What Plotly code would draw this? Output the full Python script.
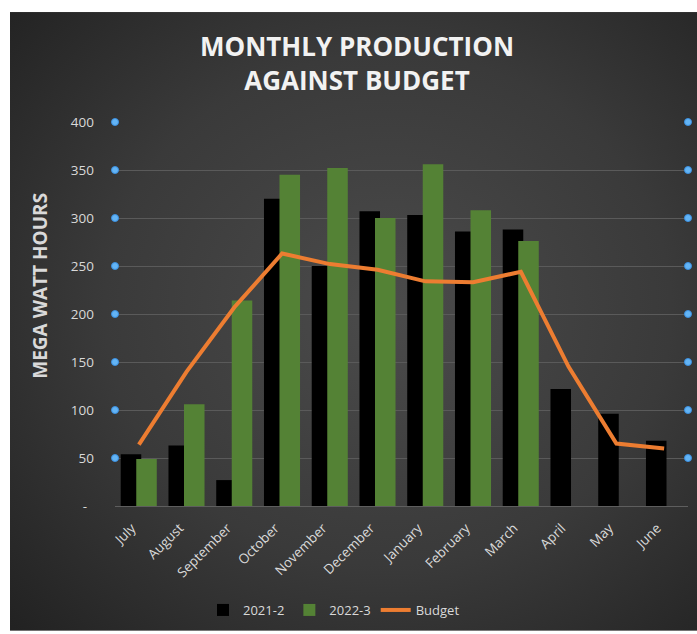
import base64
import plotly.graph_objects as go

months = ["July", "August", "September", "October", "November", "December",
          "January", "February", "March", "April", "May", "June"]
prod_2021_2 = [54, 63, 27, 320, 250, 307, 303, 286, 288, 122, 96, 68]
prod_2022_3 = [49, 106, 214, 345, 352, 300, 356, 308, 276, None, None, None]
budget = [64, 140, 207, 263, 252, 246, 234, 233, 244, 145, 65, 60]
tick_vals = [0, 50, 100, 150, 200, 250, 300, 350, 400]
tick_text = ["-\u00a0\u00a0", "50", "100", "150", "200", "250", "300", "350", "400"]
marker_y = [50, 100, 150, 200, 250, 300, 350, 400]
marker_x_edges = [0, 1]

W, H = 697, 634
L, R, T, B = 115, 9, 121.7, 125.7
pw = W - L - R
ph = H - T - B

svg = ('<svg xmlns="http://www.w3.org/2000/svg" width="687" height="623" viewBox="0 0 687 623" preserveAspectRatio="none">'
       '<defs><radialGradient id="g" cx="55%" cy="48%" r="75%">'
       '<stop offset="0" stop-color="#4b4b4b"/><stop offset="0.55" stop-color="#3a3a3a"/>'
       '<stop offset="1" stop-color="#222222"/></radialGradient></defs>'
       '<rect width="687" height="623" fill="url(#g)"/></svg>')
src = "data:image/svg+xml;base64," + base64.b64encode(svg.encode()).decode()

fig = go.Figure()
fig.add_trace(go.Bar(x=months, y=prod_2021_2, name="2021-2", marker_color="#000000",
                     width=0.43, offset=-0.38, marker_line_width=0))
fig.add_trace(go.Bar(x=months, y=prod_2022_3, name="2022-3", marker_color="#548235",
                     width=0.43, offset=-0.055, marker_line_width=0))
fig.add_trace(go.Scatter(x=months, y=budget, name="Budget", mode="lines",
                         line=dict(color="#ED7D31", width=4)))
dot_x = [xv for xv in marker_x_edges for _ in marker_y]
dot_y = [yv for _ in marker_x_edges for yv in marker_y]
fig.add_trace(go.Scatter(x=dot_x, y=dot_y, xaxis="x2", mode="markers",
                         marker=dict(color="#63B4F5", size=7, line=dict(color="#3A8FE0", width=1)),
                         showlegend=False, cliponaxis=False, hoverinfo="skip"))

fig.update_layout(
    width=W, height=H,
    margin=dict(l=L, r=R, t=T, b=B),
    paper_bgcolor="#ffffff",
    plot_bgcolor="rgba(0,0,0,0)",
    barmode="overlay",
    font=dict(family="Open Sans", color="#d9d9d9", size=12),
    title=dict(text="MONTHLY PRODUCTION<br>AGAINST BUDGET", x=357 / W, xanchor="center",
               y=1 - 56 / H, yanchor="middle",
               font=dict(family="Open Sans", size=26, color="#f2f2f2", weight="bold")),
    xaxis=dict(type="category", range=[-0.5, 11.5], tickangle=-45, showgrid=False,
               showline=True, linecolor="#5e5e5e", linewidth=1, ticks="",
               ticklabelstandoff=8, ticklabelshift=-7,
               tickfont=dict(size=13.5, color="#d9d9d9")),
    xaxis2=dict(overlaying="x", range=[0, 1], visible=False),
    yaxis=dict(range=[0, 400], tickvals=tick_vals, ticktext=tick_text, showgrid=True,
               gridcolor="#5a5a5a", gridwidth=1, zeroline=False, ticks="",
               ticklabelstandoff=20, tickfont=dict(size=13.5, color="#d9d9d9")),
    annotations=[dict(text="<b>MEGA WATT HOURS</b>", textangle=-90, showarrow=False,
                      xref="paper", yref="paper", x=(40 - L) / pw, y=(H - B - 286.5) / ph,
                      xanchor="center", yanchor="middle",
                      font=dict(family="Open Sans", size=19, color="#d9d9d9"))],
    legend=dict(orientation="h", x=(334 - L) / pw, xanchor="center",
                y=(H - B - 613) / ph, yanchor="middle",
                font=dict(size=13, color="#d9d9d9"), bgcolor="rgba(0,0,0,0)"),
    images=[dict(source=src, xref="paper", yref="paper",
                 x=(10 - L) / pw, y=(H - B - 11) / ph,
                 sizex=(W - 10) / pw, sizey=(H - 11) / ph,
                 sizing="stretch", xanchor="left", yanchor="top", layer="below")],
    showlegend=True,
)

fig.write_html("out.html", config={"displayModeBar": False},
               post_script="document.body.style.margin='0';document.body.style.overflow='hidden';")
